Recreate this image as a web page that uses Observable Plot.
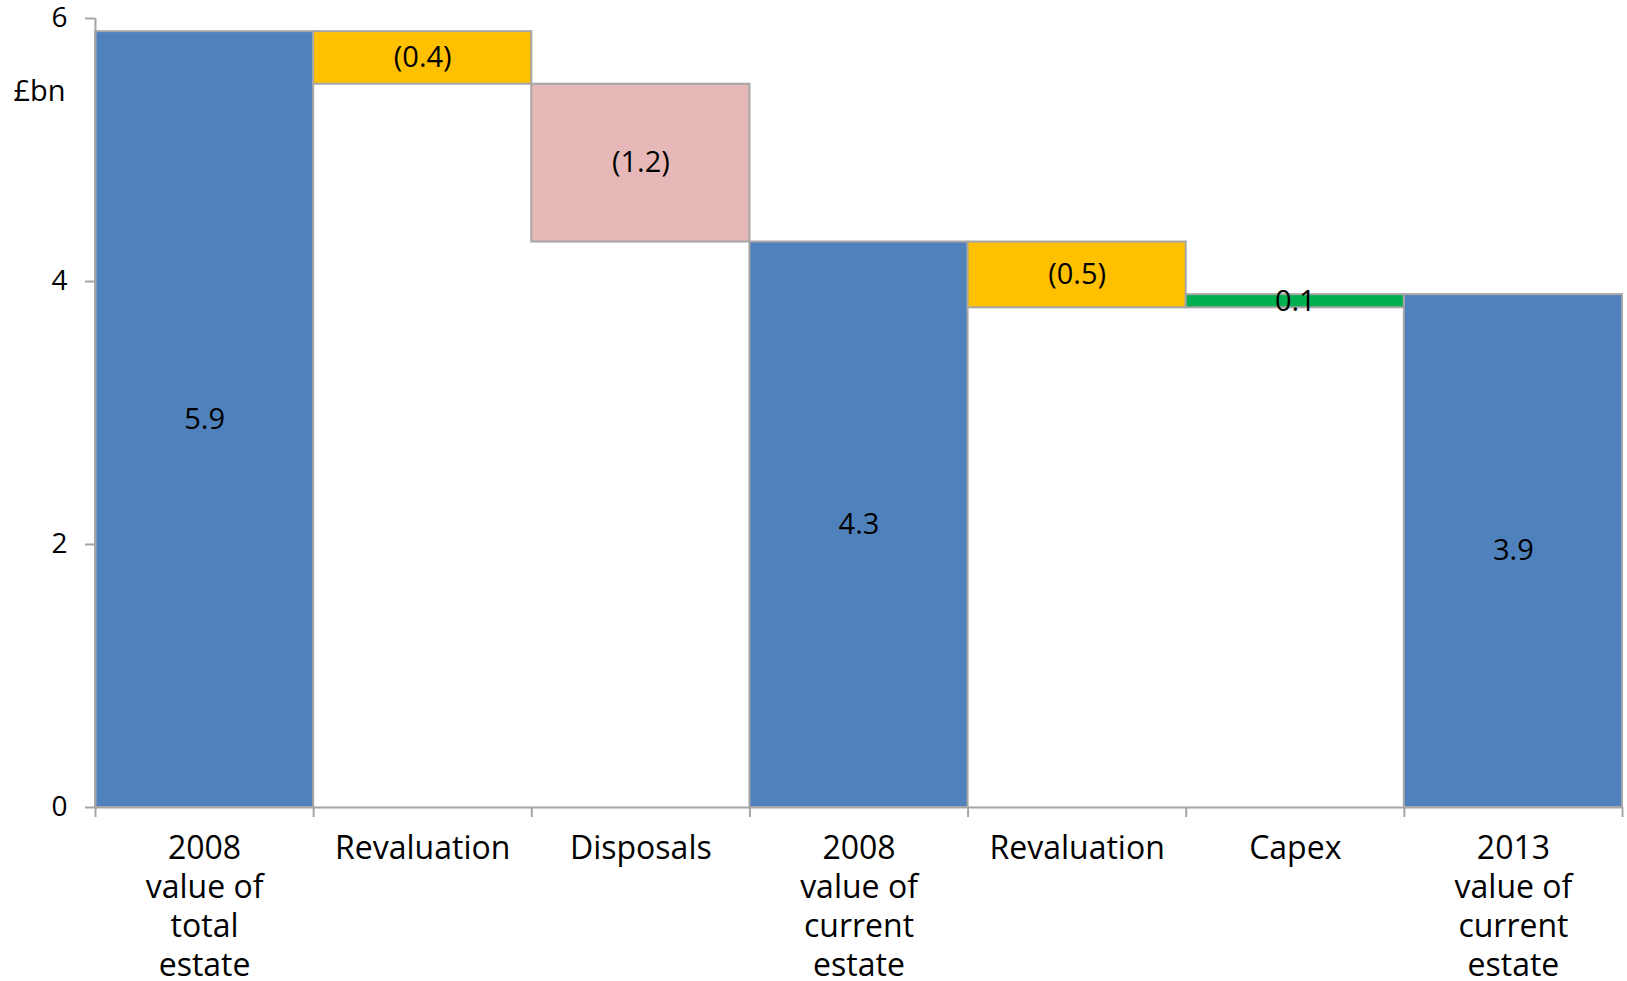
<!DOCTYPE html>
<html>
<head>
<meta charset="utf-8">
<script src="https://cdn.jsdelivr.net/npm/d3@7"></script>
<script src="https://cdn.jsdelivr.net/npm/@observablehq/plot@0.6"></script>
<style>
  html, body { margin: 0; padding: 0; background: #fff; }
  #chart svg { display: block; }
</style>
</head>
<body>
<div id="chart"></div>
<script>
// Estate value bridge, £bn
const categories = [
  "2008\nvalue of\ntotal\nestate",
  "Revaluation",
  "Disposals",
  "2008\nvalue of\ncurrent\nestate",
  "Revaluation",
  "Capex",
  "2013\nvalue of\ncurrent\nestate"
];
const values = [5.9, -0.4, -1.2, 4.3, -0.5, 0.1, 3.9];
const kinds = ["total", "change", "change", "total", "change", "change", "total"];
const valueLabels = ["5.9", "(0.4)", "(1.2)", "4.3", "(0.5)", "0.1", "3.9"];
const yTicks = [0, 2, 4, 6];

const fills = {
  total: "#4F81BD",
  down: "#FFC000",
  disposal: "#E6B9B8",
  up: "#00B050"
};

// Build running start/end for each step of the bridge
let level = 0;
const steps = categories.map((label, i) => {
  let start, end;
  if (kinds[i] === "total") {
    start = 0; end = values[i]; level = values[i];
  } else {
    start = level; end = level + values[i]; level = end;
  }
  let fill;
  if (kinds[i] === "total") fill = fills.total;
  else if (values[i] > 0) fill = fills.up;
  else if (label === "Disposals") fill = fills.disposal;
  else fill = fills.down;
  return {i, label, start, end, lo: Math.min(start, end), hi: Math.max(start, end), fill, text: valueLabels[i]};
});

const font = "'Century Gothic', 'Open Sans', sans-serif";
const gray = "#A6A6A6";

const chart = Plot.plot({
  width: 1627,
  height: 981,
  marginLeft: 95,
  marginRight: 5,
  marginTop: 18,
  marginBottom: 174,
  style: {fontFamily: font, fontSize: "28px", color: "#000", background: "#fff"},
  x: {domain: [0, categories.length], axis: null},
  y: {domain: [0, 6], axis: null},
  marks: [
    Plot.rect(steps, {
      x1: d => d.i, x2: d => d.i + 1,
      y1: "lo", y2: "hi",
      fill: "fill", stroke: gray, strokeWidth: 2
    }),
    // axis lines
    Plot.ruleX([0], {y1: 0, y2: 6, stroke: gray, strokeWidth: 2}),
    Plot.ruleY([0], {stroke: gray, strokeWidth: 2}),
    Plot.axisY({
      ticks: yTicks, tickSize: 10, tickPadding: 18, tickFormat: d => String(d),
      stroke: gray, strokeWidth: 2, strokeOpacity: 1,
      fontSize: 28, fill: "#000", label: null
    }),
    Plot.axisX({
      ticks: d3.range(categories.length + 1), tickSize: 10,
      tickFormat: () => "", stroke: gray, strokeWidth: 2, strokeOpacity: 1, label: null
    }),
    // category labels under each band
    Plot.text(steps, {
      x: d => d.i + 0.5, y: 0, text: "label",
      lineAnchor: "top", dy: 24, lineHeight: 1.22,
      fontSize: 32, fill: "#000"
    }),
    // value labels centred in each bar
    Plot.text(steps, {
      x: d => d.i + 0.5, y: d => (d.lo + d.hi) / 2, text: "text",
      fontSize: 29, fill: "#000"
    }),
    // unit label
    Plot.text(["£bn"], {
      frameAnchor: "top-left", textAnchor: "middle", dx: -56, dy: 62,
      fontSize: 29, fill: "#000"
    })
  ]
});

document.getElementById("chart").append(chart);
</script>
</body>
</html>
